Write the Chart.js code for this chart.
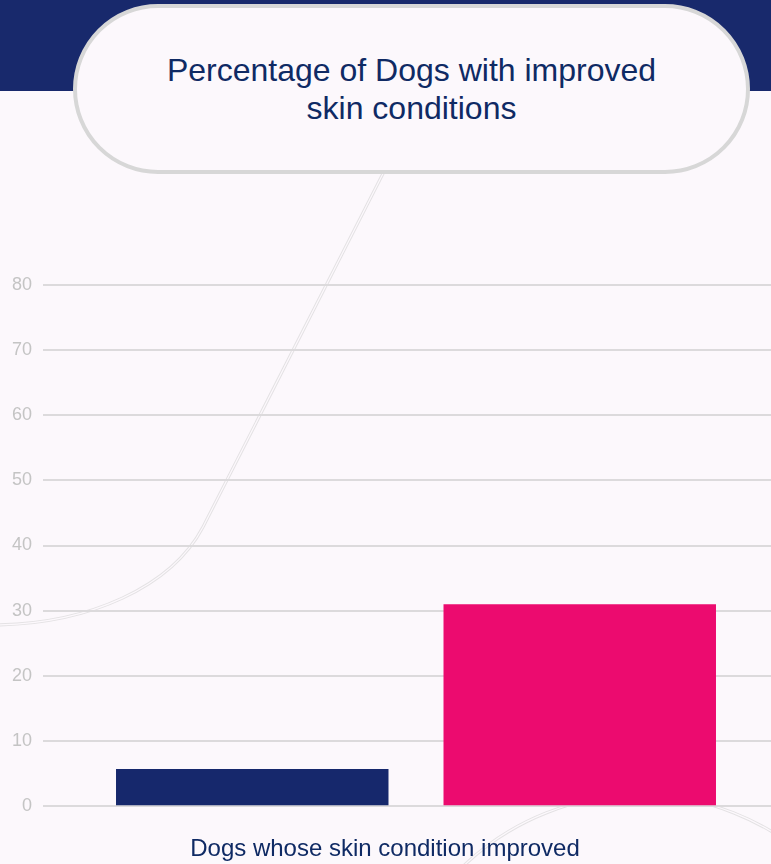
<!DOCTYPE html>
<html>
<head>
<meta charset="utf-8">
<title>Percentage of Dogs with improved skin conditions</title>
<script src="https://cdn.jsdelivr.net/npm/chart.js"></script>
<style>
    html, body {
        margin: 0;
        padding: 0;
        width: 771px;
        height: 864px;
        overflow: hidden;
        background: #fcf8fc;
        font-family: "Liberation Sans", Arial, sans-serif;
    }
    .top-band {
        position: absolute;
        left: 0;
        top: 0;
        width: 771px;
        height: 91px;
        background: #18296c;
    }
    .deco {
        position: absolute;
        left: 0;
        top: 0;
        width: 771px;
        height: 864px;
    }
    .title-box {
        position: absolute;
        left: 73px;
        top: 4px;
        width: 677px;
        height: 170px;
        box-sizing: border-box;
        border: 4px solid #d7d7d7;
        border-radius: 85px;
        background: #fcf8fc;
        display: flex;
        align-items: center;
        justify-content: center;
        text-align: center;
        color: #0f2a64;
        font-size: 32px;
        line-height: 38px;
    }
    .chart-wrap {
        position: absolute;
        left: 0;
        top: 263px;
        width: 789px;
        height: 633px;
    }
</style>
</head>
<body>
<div class="top-band"></div>

<!-- Fond décoratif : lignes doubles fines -->
<svg class="deco" viewBox="0 0 771 864">
    <g fill="none">
        <path d="M -10 625 C 90 625, 172 586, 203 527 L 395 150" stroke="#e4e2e4" stroke-width="3.2"/>
        <path d="M -10 625 C 90 625, 172 586, 203 527 L 395 150" stroke="#fcf8fc" stroke-width="1.2"/>
        <circle cx="640" cy="1050" r="255" stroke="#e4e2e4" stroke-width="3.2"/>
        <circle cx="640" cy="1050" r="255" stroke="#fcf8fc" stroke-width="1.2"/>
    </g>
</svg>

<div class="chart-wrap">
    <canvas id="skinChart"></canvas>
</div>

<div class="title-box">Percentage of Dogs with improved<br>skin conditions</div>

<script>
// Données du graphique
const categories = ["Dogs whose skin condition improved"];
const groupLabels = ["Control", "Treated"];
const controlValues = [5.7];
const treatedValues = [31];
const yTickValues = [0, 10, 20, 30, 40, 50, 60, 70, 80];

const navy = "#16286c";
const pink = "#ec0b6f";
const textNavy = "#0f2a64";

const ctx = document.getElementById("skinChart").getContext("2d");

new Chart(ctx, {
    type: "bar",
    data: {
        labels: categories,
        datasets: [{
            label: groupLabels[0],
            data: controlValues,
            backgroundColor: navy,
            borderWidth: 0
        }, {
            label: groupLabels[1],
            data: treatedValues,
            backgroundColor: pink,
            borderWidth: 0
        }]
    },
    options: {
        responsive: true,
        maintainAspectRatio: false,
        animation: false,
        categoryPercentage: 0.878,
        barPercentage: 0.832,
        layout: {
            padding: { top: 20, right: 0, bottom: 3, left: 0 }
        },
        plugins: {
            legend: { display: false },
            tooltip: { enabled: false }
        },
        scales: {
            x: {
                grid: { display: false, drawTicks: false },
                border: { display: false },
                ticks: {
                    color: textNavy,
                    padding: 29,
                    labelOffset: -31,
                    font: { family: "'Liberation Sans', Arial, sans-serif", size: 24 }
                }
            },
            y: {
                min: yTickValues[0],
                max: yTickValues[yTickValues.length - 1],
                afterBuildTicks: axis => {
                    axis.ticks = yTickValues.map(v => ({ value: v }));
                },
                afterFit: axis => {
                    axis.width = 43; // largeur fixe de l'axe
                },
                grid: { color: "#dcdadc", lineWidth: 2, drawTicks: false },
                border: { display: false },
                ticks: {
                    color: "#c4c4c4",
                    padding: 11,
                    font: { family: "'Liberation Sans', Arial, sans-serif", size: 18 }
                }
            }
        }
    }
});
</script>
</body>
</html>
